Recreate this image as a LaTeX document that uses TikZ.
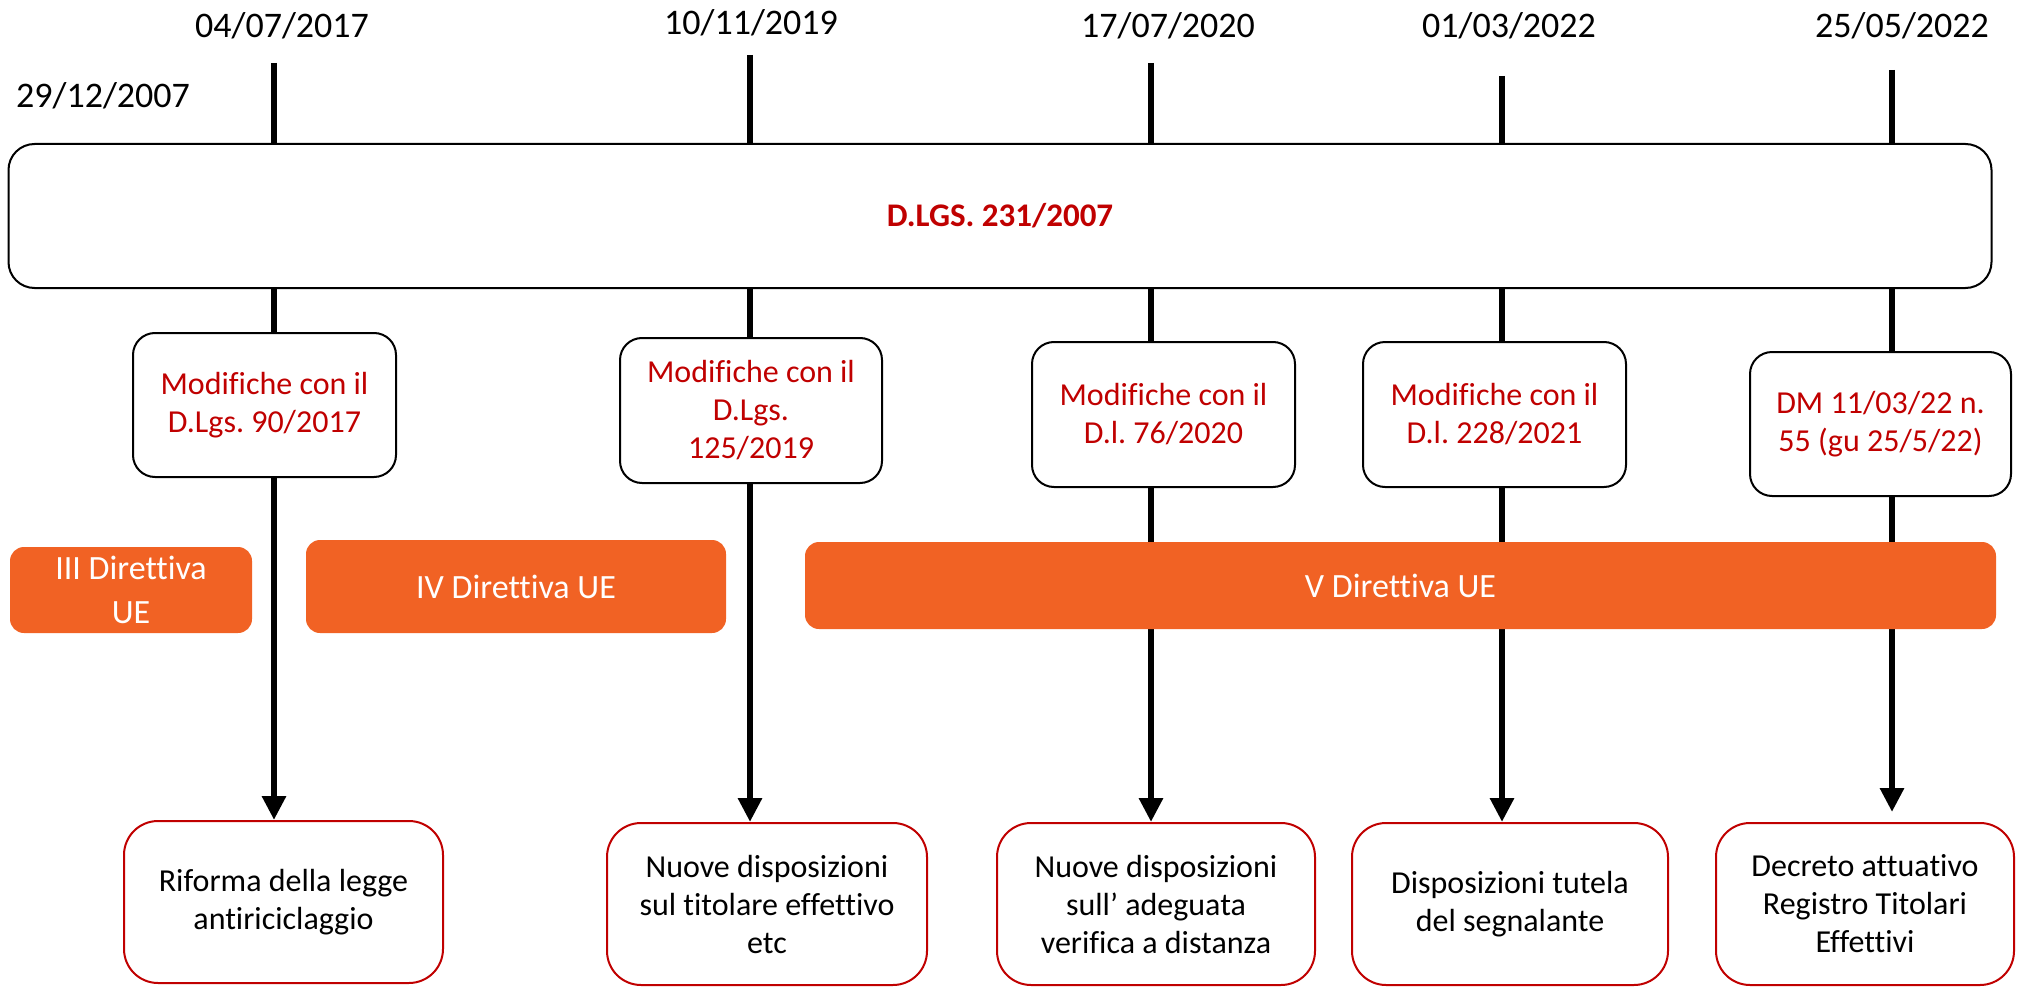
\documentclass[tikz,border=0pt]{standalone}
\usepackage{fontspec}
\setmainfont{Carlito}[RawFeature={-liga;-clig;-calt;-dlig}]
\usetikzlibrary{arrows.meta}
\definecolor{dred}{RGB}{192,0,0}
\definecolor{dorange}{RGB}{241,98,36}
\begin{document}
\frenchspacing
\begin{tikzpicture}[x=1pt,y=-1pt,
  datelbl/.style={font=\fontsize{36}{44}\selectfont, anchor=base, inner sep=0pt},
  tick/.style={line width=6pt, black},
  arr/.style={line width=6pt, black, -{Triangle[length=24pt,width=23pt]}},
  mainbox/.style={draw, line width=2pt, rounded corners=26pt, fill=white, text=dred,
    font=\bfseries\fontsize{33}{40}\selectfont, inner sep=0pt},
  modbox/.style={draw, line width=2pt, rounded corners=22pt, fill=white, text=dred,
    font=\fontsize{32}{38}\selectfont, align=center, inner sep=0pt},
  resbox/.style={draw=dred, line width=2pt, rounded corners=34pt, fill=white,
    font=\fontsize{32}{38}\selectfont, align=center, inner sep=0pt},
  barbox/.style={fill=dorange, rounded corners=14pt, text=white,
    font=\fontsize{34}{44}\selectfont, align=center, inner sep=0pt}
]
\useasboundingbox (0,0) rectangle (2018,987);

% dates
\node[datelbl] (d0) at (103,108) {29/12/2007};
\node[datelbl] (d1) at (282,38) {04/07/2017};
\node[datelbl] (d2) at (751,35) {10/11/2019};
\node[datelbl] (d3) at (1168,38) {17/07/2020};
\node[datelbl] (d4) at (1509,38) {01/03/2022};
\node[datelbl] (d5) at (1902,38) {25/05/2022};

% tick tops
\coordinate (t1) at (274,63);
\coordinate (t2) at (750,55);
\coordinate (t3) at (1151,63);
\coordinate (t4) at (1502,76);
\coordinate (t5) at (1892,70);

% main box
\node[mainbox, minimum width=1983pt, minimum height=144pt] (main) at (1000,216) {D.LGS. 231/2007};

% modifiche boxes
\node[modbox, minimum width=263pt, minimum height=144pt] (m1) at (264.5,405) {Modifiche con il\\D.Lgs. 90/2017};
\node[modbox, minimum width=262pt, minimum height=145pt] (m2) at (751,410.5) {Modifiche con il\\D.Lgs.\\125/2019};
\node[modbox, minimum width=263pt, minimum height=145pt] (m3) at (1163.5,414.5) {Modifiche con il\\D.l. 76/2020};
\node[modbox, minimum width=263pt, minimum height=145pt] (m4) at (1494.5,414.5) {Modifiche con il\\D.l. 228/2021};
\node[modbox, minimum width=261pt, minimum height=144pt] (m5) at (1880.5,424) {DM 11/03/22 n.\\55 (gu 25/5/22)};

% result boxes
\node[resbox, minimum width=319pt, minimum height=162pt] (b1) at (283.5,902) {Riforma della legge\\antiriciclaggio};
\node[resbox, minimum width=320pt, minimum height=162pt] (b2) at (767,904) {Nuove disposizioni\\sul titolare effettivo\\etc};
\node[resbox, minimum width=318pt, minimum height=162pt] (b3) at (1156,904) {Nuove disposizioni\\sull’ adeguata\\verifica a distanza};
\node[resbox, minimum width=316pt, minimum height=162pt] (b4) at (1510,904) {Disposizioni tutela\\del segnalante};
\node[resbox, minimum width=298pt, minimum height=162pt] (b5) at (1865,904) {Decreto attuativo\\Registro Titolari\\Effettivi};

% connectors
\foreach \i in {1,...,5}{
  \draw[tick] (t\i) -- (main.north -| t\i);
  \draw[tick] (main.south -| t\i) -- (m\i.north -| t\i);
}
\draw[arr] (m1.south -| t1) -- (b1.north -| t1);
\draw[arr] (m2.south -| t2) -- (b2.north -| t2);
\draw[arr] (m3.south -| t3) -- (b3.north -| t3);
\draw[arr] (m4.south -| t4) -- (b4.north -| t4);
\draw[arr, shorten >=10pt] (m5.south -| t5) -- (b5.north -| t5);

% directive bars (over the lines)
\node[barbox, minimum width=242pt, minimum height=86pt] (dir3) at (131,590) {III Direttiva\\UE};
\node[barbox, minimum width=420pt, minimum height=93pt] (dir4) at (516,586.5) {IV Direttiva UE};
\node[barbox, minimum width=1191pt, minimum height=87pt] (dir5) at (1400.5,585.5) {V Direttiva UE};
\end{tikzpicture}
\end{document}
